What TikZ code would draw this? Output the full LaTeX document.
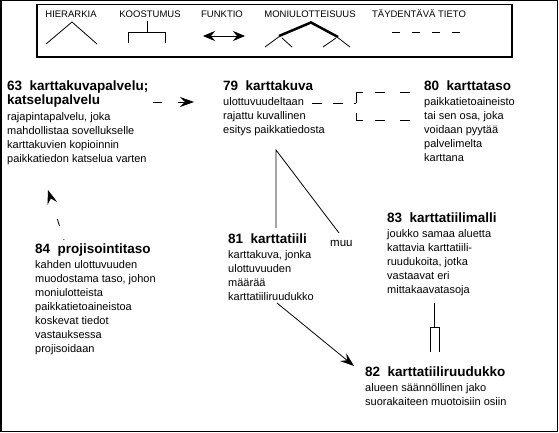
\documentclass[tikz,border=0pt]{standalone}
\usepackage{fontspec}
\setmainfont{Liberation Sans}
\usetikzlibrary{arrows.meta}
\newcommand\ttlx[1]{{\bfseries\fontsize{13.5}{14}\selectfont #1}}
\begin{document}
\begin{tikzpicture}[x=1pt,y=-1pt,
  desc/.style={anchor=base west, inner sep=0pt, align=left, font=\fontsize{11}{14}\selectfont},
  leg/.style={inner sep=0pt, font=\fontsize{9.5}{11}\selectfont},
  frame/.style={line width=1.5pt},
  arrhead/.style={-{Stealth[length=14pt,width=10pt,inset=5pt]}},
  thinl/.style={line width=0.8pt}
]
\useasboundingbox (0,0) rectangle (559,433);
\draw[frame] (0.75,0.75) rectangle (557.5,431.5);

% legend
\draw[frame] (37,4.5) rectangle (512,57);
\node[leg] (lh) at (71,14) {HIERARKIA};
\node[leg] (lk) at (150,14) {KOOSTUMUS};
\node[leg] (lf) at (222,14) {FUNKTIO};
\node[leg] (lm) at (310,14) {MONIULOTTEISUUS};
\node[leg] (lt) at (419,14) {TÄYDENTÄVÄ TIETO};
\draw[thinl] (46,44) -- (72,22) -- (97,44);
\draw[thinl] (147,21) -- (147,32);
\draw[thinl] (128,43) -- (128,32) -- (165,32) -- (165,43);
\draw[thinl,{Stealth[length=12pt,width=10pt,inset=4pt]}-{Stealth[length=12pt,width=10pt,inset=4pt]}] (203,36) -- (245,36);
\draw[line width=2.5pt] (279,36) -- (311,22.5) -- (338,37);
\draw[thinl] (265,47) -- (280,36) (282,38) -- (292,47);
\draw[thinl] (323,47) -- (336,38) (337,37) -- (350,47);
\draw[thinl,dash pattern=on 8pt off 12pt] (392,32) -- (462,32);

% concepts (anchored at the baseline of their last line)
\node[desc] (n63) at (7,162) {\ttlx{63\ \ karttakuvapalvelu;}\\ \ttlx{katselupalvelu}\\[2pt]
  rajapintapalvelu, joka\\ mahdollistaa sovellukselle\\ karttakuvien kopioinnin\\ paikkatiedon katselua varten};
\node[desc] (n79) at (223,133.5) {\ttlx{79\ \ karttakuva}\\[1.5pt]
  ulottuvuudeltaan\\ rajattu kuvallinen\\ esitys paikkatiedosta};
\node[desc] (n80) at (424,161.5) {\ttlx{80\ \ karttataso}\\[1.5pt]
  paikkatietoaineisto\\ tai sen osa, joka\\ voidaan pyytää\\ palvelimelta\\ karttana};
\node[desc] (n84) at (35,352) {\ttlx{84\ \ projisointitaso}\\[1pt]
  kahden ulottuvuuden\\ muodostama taso, johon\\ moniulotteista\\ paikkatietoaineistoa\\ koskevat tiedot\\ vastauksessa\\ projisoidaan};
\node[desc] (n81) at (228,300) {\ttlx{81\ \ karttatiili}\\[1pt]
  karttakuva, jonka\\ ulottuvuuden\\ määrää\\ karttatiiliruudukko};
\node[desc, font=\fontsize{11.5}{14}\selectfont] (muu) at (330,246.5) {muu};
\node[desc] (n83) at (387,293) {\ttlx{83\ \ karttatiilimalli}\\[1pt]
  joukko samaa aluetta\\ kattavia karttatiili-\\ ruudukoita, jotka\\ vastaavat eri\\ mittakaavatasoja};
\node[desc] (n82) at (365,405) {\ttlx{82\ \ karttatiiliruudukko}\\[1pt]
  alueen säännöllinen jako\\ suorakaiteen muotoisiin osiin};

% 63 -> 79 (dashed function arrow)
\coordinate (a1) at (153,102);
\coordinate (a2) at (194,102);
\draw[thinl,arrhead,dash pattern=on 9pt off 16pt] (a1) -- (a2);

% 79 -- 80 (supplementary, dashed fork)
\coordinate (f0) at (312,103);
\coordinate (fj) at (356,103);
\coordinate (ft) at (356,92);
\coordinate (fb) at (356,120);
\coordinate (f1) at (410,92);
\coordinate (f2) at (410,120);
\draw[thinl,dash pattern=on 10pt off 11pt] (f0) -- (fj);
\draw[thinl,dash pattern=on 11pt off 10pt] (ft) -- (fb);
\draw[thinl,dash pattern=on 7pt off 12pt on 10pt off 15pt on 10pt off 20pt] (ft) -- (f1);
\draw[thinl,dash pattern=on 7pt off 12pt on 10pt off 15pt on 10pt off 20pt] (fb) -- (f2);

% 79 hierarchy -> 81, muu
\coordinate (h) at (276,150);
\coordinate (hl) at (276,228);
\coordinate (hr) at (339,233);
\draw[thinl] (hl) -- (h) -- (hr);

% 81 -> 82
\coordinate (b1) at (277,303);
\coordinate (b2) at (354,366);
\draw[thinl,arrhead] (b1) -- (b2);

% 83 -- 82 composition
\coordinate (c0) at (434.5,303);
\coordinate (c1) at (434.5,327);
\draw[thinl] (c0) -- (c1);
\draw[thinl] (430,352) -- (430,327) -- (439,327) -- (439,352);

% 84 -> 63 (dashed arrow)
\coordinate (d1) at (64,240);
\coordinate (d2) at (48,190);
\draw[thinl,arrhead,dash pattern=on 1pt off 14pt on 7pt off 30pt] (d1) -- (d2);
\end{tikzpicture}
\end{document}
